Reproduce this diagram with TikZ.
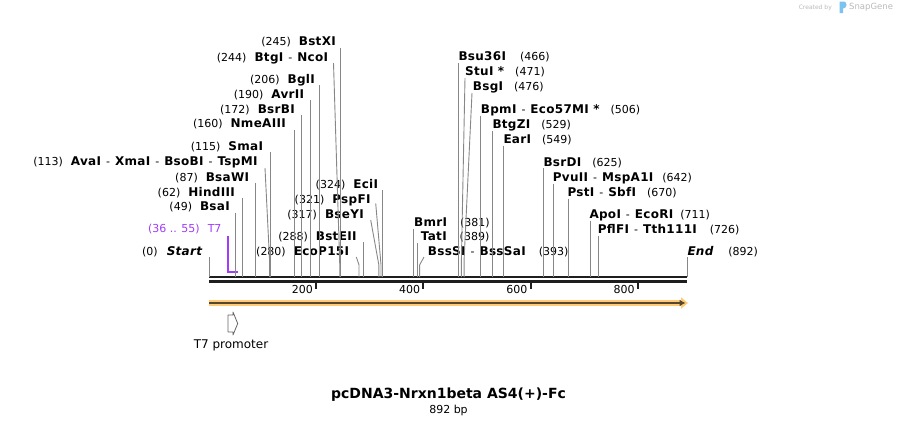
\documentclass[tikz,border=0pt]{standalone}
\usepackage{fontspec}
\setmainfont{DejaVu Sans}
\newfontfamily\enzfont[LetterSpace=2.5]{DejaVu Sans}
\usepackage{tikz}
\usetikzlibrary{arrows.meta,positioning}
\usepackage{xcolor}
\definecolor{cutgray}{RGB}{135,135,135}
\definecolor{barblack}{RGB}{30,30,30}
\definecolor{t7purple}{RGB}{160,60,250}
\definecolor{featorange}{RGB}{255,202,115}
\definecolor{featdark}{RGB}{85,70,50}
\definecolor{sggray}{RGB}{185,185,185}
\definecolor{sgblue}{RGB}{125,195,240}

\newcommand{\ename}[1]{{\enzfont\fontsize{12}{14}\selectfont\bfseries #1}}
\newcommand{\dashsep}{\hspace{5pt}-\hspace{5pt}}

\begin{document}
\begin{tikzpicture}[x=1pt, y=-1pt, >=latex]
    \tikzstyle{lbl} = [inner sep=0pt, font=\fontsize{11}{13}\selectfont]
    \tikzstyle{lleft} = [lbl, anchor=base east]
    \tikzstyle{lright} = [lbl, anchor=base west]
    \tikzstyle{cut} = [draw=cutgray, line width=0.9pt]
    \tikzstyle{backbone} = [draw=barblack, line width=2.6pt]
    \tikzstyle{tick} = [draw=barblack, line width=2pt]
    \tikzstyle{promoter} = [draw=black!60, fill=white, line width=0.8pt, line join=round]

    \useasboundingbox (0,0) rectangle (897,426);

    % sites along the sequence (892 bp)
    \foreach \p in {0,36,49,55,62,87,113,115,160,172,190,206,244,245,280,288,317,321,324,
                    381,389,393,466,471,476,506,529,549,625,642,670,711,726,892}
        \coordinate (s\p) at ({209+\p*0.535874},277);

    \draw[backbone] (s0) -- (s892);
    \draw[backbone] ([yshift=-4.3pt]s0) -- ([yshift=-4.3pt]s892);
    \foreach \t in {200,400,600,800} {
        \coordinate (k\t) at ({209+\t*0.535874},281);
        \draw[tick] (k\t) -- ++(0,8);
        \node[lbl, anchor=east] (n\t) at ([xshift=-3pt, yshift=-8pt]k\t) {\t};
    }

    % start / end
    \node[lleft] (startlbl) at (202.3,255.6) {(0)\hspace{9pt}\ename{\itshape Start}};
    \node[lright] (endlbl) at (687.3,255.6) {\ename{\itshape End}\hspace{15pt}(892)};
    \draw[cut] (startlbl.base east -| s0) ++(0,1.4) -- (s0);
    \draw[cut] (endlbl.base west -| s892) ++(0,1.4) -- (s892);

    % T7
    \node[lleft, text=t7purple] (t7) at (221.7,232.8) {(36 .. 55)\hspace{8pt}T7};
    \draw[t7purple, line width=2pt] ([yshift=41pt]s36) |- ([yshift=5pt]s55);

    % enzymes left of the cluster
    \node[lleft] (bstxi) at (336,45.8) {(245)\hspace{8pt}\ename{BstXI}};
    \node[lleft] (ncoi) at (328.3,61.8) {(244)\hspace{8pt}\ename{BtgI}\dashsep\ename{NcoI}};
    \node[lleft] (bgli) at (315,83.3) {(206)\hspace{8pt}\ename{BglI}};
    \node[lleft] (avrii) at (304.3,98.3) {(190)\hspace{8pt}\ename{AvrII}};
    \node[lleft] (bsrbi) at (295,113.3) {(172)\hspace{8pt}\ename{BsrBI}};
    \node[lleft] (nmeaiii) at (286,127.8) {(160)\hspace{8pt}\ename{NmeAIII}};
    \node[lleft] (smai) at (263.3,150.3) {(115)\hspace{8pt}\ename{SmaI}};
    \node[lleft] (tspmi) at (257.7,165.8) {(113)\hspace{8pt}\ename{AvaI}\dashsep\ename{XmaI}\dashsep\ename{BsoBI}\dashsep\ename{TspMI}};
    \node[lleft] (bsawi) at (249.3,181) {(87)\hspace{8pt}\ename{BsaWI}};
    \node[lleft] (hindiii) at (235,196) {(62)\hspace{8pt}\ename{HindIII}};
    \node[lleft] (bsai) at (230,210.8) {(49)\hspace{8pt}\ename{BsaI}};
    \node[lleft] (ecii) at (378.3,188.3) {(324)\hspace{8pt}\ename{EciI}};
    \node[lleft] (pspfi) at (370.7,203) {(321)\hspace{8pt}\ename{PspFI}};
    \node[lleft] (bseyi) at (364,218) {(317)\hspace{8pt}\ename{BseYI}};
    \node[lleft] (bsteii) at (356.7,240.6) {(288)\hspace{8pt}\ename{BstEII}};
    \node[lleft] (ecop15i) at (349.3,255.6) {(280)\hspace{8pt}\ename{EcoP15I}};

    \draw[cut] (bstxi.base east -| s245) ++(0,1.7) -- (s245);
    \draw[cut] (ncoi.base east) ++(5.2,1.2) -- ([yshift=12pt]s244) -- (s244);
    \draw[cut] (bgli.base east -| s206) ++(0,1.7) -- (s206);
    \draw[cut] (avrii.base east -| s190) ++(0,1.7) -- (s190);
    \draw[cut] (bsrbi.base east -| s172) ++(0,1.7) -- (s172);
    \draw[cut] (nmeaiii.base east -| s160) ++(0,1.7) -- (s160);
    \draw[cut] (smai.base east -| s115) ++(0,1.7) -- (s115);
    \draw[cut] (tspmi.base east) ++(7.3,2.2) -- ([yshift=17pt]s113) -- (s113);
    \draw[cut] (bsawi.base east -| s87) ++(0,1.7) -- (s87);
    \draw[cut] (hindiii.base east -| s62) ++(0,1.7) -- (s62);
    \draw[cut] (bsai.base east -| s49) ++(0,1.7) -- (s49);
    \draw[cut] (ecii.base east -| s324) ++(0,1.7) -- (s324);
    \draw[cut] (pspfi.base east) ++(5,0.3) -- ([yshift=12pt]s321) -- (s321);
    \draw[cut] (bseyi.base east) ++(6.7,2) -- ([yshift=12pt]s317) -- (s317);
    \draw[cut] (bsteii.base east -| s288) ++(0,1.7) -- (s288);
    \draw[cut] (ecop15i.base east) ++(7,1.4) -- ([yshift=12pt]s280) -- (s280);

    % enzymes right of the cluster
    \node[lright] (bmri) at (414,226.8) {\ename{BmrI}\hspace{13pt}(381)};
    \node[lright] (tati) at (420.7,240.5) {\ename{TatI}\hspace{13pt}(389)};
    \node[lright] (bsssi) at (427.7,255.6) {\ename{BssSI}\dashsep\ename{BssSaI}\hspace{13pt}(393)};
    \node[lright] (bsu36i) at (458.3,60.6) {\ename{Bsu36I}\hspace{14pt}(466)};
    \node[lright] (stui) at (465,75.6) {\ename{StuI *}\hspace{11pt}(471)};
    \node[lright] (bsgi) at (472.7,90.6) {\ename{BsgI}\hspace{11pt}(476)};
    \node[lright] (bpmi) at (480.7,113.1) {\ename{BpmI}\dashsep\ename{Eco57MI *}\hspace{11pt}(506)};
    \node[lright] (btgzi) at (492.3,128.1) {\ename{BtgZI}\hspace{11pt}(529)};
    \node[lright] (eari) at (503.3,143.1) {\ename{EarI}\hspace{11pt}(549)};
    \node[lright] (bsrdi) at (543.3,166) {\ename{BsrDI}\hspace{11pt}(625)};
    \node[lright] (pvuii) at (552.7,181.5) {\ename{PvuII}\dashsep\ename{MspA1I}\hspace{9pt}(642)};
    \node[lright] (psti) at (567.3,196.3) {\ename{PstI}\dashsep\ename{SbfI}\hspace{11pt}(670)};
    \node[lright] (ecori) at (589.3,218.3) {\ename{ApoI}\dashsep\ename{EcoRI}\hspace{7pt}(711)};
    \node[lright] (pflfi) at (597.7,233.1) {\ename{PflFI}\dashsep\ename{Tth111I}\hspace{13pt}(726)};

    \draw[cut] (bmri.base west -| s381) ++(0,1.7) -- (s381);
    \draw[cut] (tati.base west -| s389) ++(0,2.5) -- (s389);
    \draw[cut] (bsssi.base west) ++(-3.7,1.4) -- ([yshift=12pt]s393) -- (s393);
    \draw[cut] (bsu36i.base west -| s466) ++(0,2.4) -- (s466);
    \draw[cut] (stui.base west) ++(0,2.4) -- ([yshift=17pt]s471) -- (s471);
    \draw[cut] (bsgi.base west) ++(-0.7,2.4) -- ([yshift=17pt]s476) -- (s476);
    \draw[cut] (bpmi.base west -| s506) ++(0,2.4) -- (s506);
    \draw[cut] (btgzi.base west -| s529) ++(0,2.4) -- (s529);
    \draw[cut] (eari.base west -| s549) ++(0,2.4) -- (s549);
    \draw[cut] (bsrdi.base west -| s625) ++(0,2.4) -- (s625);
    \draw[cut] (pvuii.base west -| s642) ++(0,2.4) -- (s642);
    \draw[cut] (psti.base west -| s670) ++(0,2.4) -- (s670);
    \draw[cut] (ecori.base west -| s711) ++(0,2.4) -- (s711);
    \draw[cut] (pflfi.base west -| s726) ++(0,2.4) -- (s726);

    % feature track
    \coordinate (fa) at (209,303);
    \coordinate (fb) at (688,303);
    \draw[featorange, line width=6pt, -{Triangle[length=7pt,width=11pt]}] (fa) -- (fb);
    \draw[featdark, line width=2.2pt, -{Latex[length=6pt,width=7pt]}] (fa) -- ([xshift=-2.5pt]fb);

    \draw[promoter] (228,315) -- (233,315) -- (233,312) -- (237.7,323.5) -- (233,335) -- (233,332) -- (228,332) -- cycle;
    \node[lbl, font=\fontsize{12}{14}\selectfont] (t7prom) at (231,345) {T7 promoter};

    % title
    \node[inner sep=0pt, font=\fontsize{14}{16}\selectfont\bfseries] (title) at (448.5,394.5) {pcDNA3-Nrxn1beta AS4(+)-Fc};
    \node[lbl, below=3pt of title] (size) {892 bp};

    % credit
    \node[anchor=east, inner sep=0pt, text=sggray, font=\fontsize{6}{7}\selectfont] (credit) at (832,7.5) {Created by};
    \fill[sgblue] (839.5,1.5) -- (844,1.5) to[out=0,in=90] (846.5,5) to[out=-90,in=0] (843,8.5) -- (843,13) -- (839.5,13) -- cycle;
    \node[anchor=west, inner sep=0pt, text=sggray, font=\fontsize{8.5}{10}\selectfont] (sg) at (849,7.5) {SnapGene};
\end{tikzpicture}
\end{document}
